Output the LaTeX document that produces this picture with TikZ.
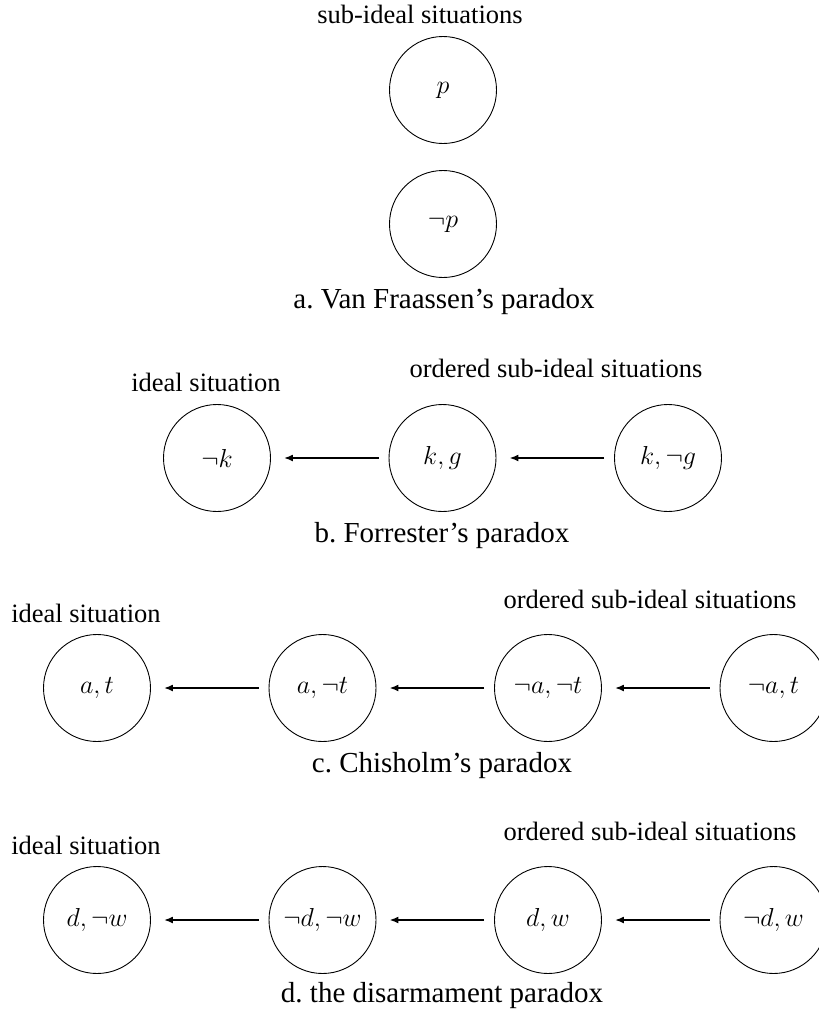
\documentclass[tikz,border=0pt]{standalone}
\usepackage{fix-cm}
\usepackage{fontspec}
\setmainfont{Liberation Serif}
\usetikzlibrary{arrows.meta}
\begin{document}
\begin{tikzpicture}[x=1pt,y=-1pt,
  state/.style={draw, circle, line width=0.9pt, minimum size=107pt, inner sep=0pt, font=\fontsize{26}{30}\selectfont},
  lbl/.style={font=\fontsize{26.5}{31}\selectfont, inner sep=0pt, anchor=base},
  captext/.style={font=\fontsize{29}{34}\selectfont, inner sep=0pt, anchor=base},
  pref/.style={-{Latex[length=9pt,width=7pt]}, line width=1.7pt, shorten <=10pt, shorten >=13pt}]
\useasboundingbox (0,0) rectangle (819,1013);
% a
\node[lbl] (ta) at (420,23) {sub-ideal situations};
\node[state] (p) at (443,90) {$p$};
\node[state] (np) at (443,224) {$\neg p$};
\node[captext] (ca) at (444,308) {a.\ Van Fraassen's paradox};
% b
\node[lbl] (ib) at (206,391) {ideal situation};
\node[lbl] (ob) at (556,377) {ordered sub-ideal situations};
\node[state] (b1) at (217,458) {$\neg k$};
\node[state] (b2) at (442.5,458) {$k, g$};
\node[state] (b3) at (668,458) {$k, \neg g$};
\draw[pref] (b2) -- (b1);
\draw[pref] (b3) -- (b2);
\node[captext] (cb) at (442,542) {b.\ Forrester's paradox};
% c
\node[lbl] (ic) at (86,622) {ideal situation};
\node[lbl] (oc) at (650,608) {ordered sub-ideal situations};
\node[state] (c1) at (97,688) {$a, t$};
\node[state] (c2) at (322.5,688) {$a, \neg t$};
\node[state] (c3) at (548,688) {$\neg a, \neg t$};
\node[state] (c4) at (773.5,688) {$\neg a, t$};
\draw[pref] (c2) -- (c1);
\draw[pref] (c3) -- (c2);
\draw[pref] (c4) -- (c3);
\node[captext] (cc) at (442,772) {c.\ Chisholm's paradox};
% d
\node[lbl] (id) at (86,854) {ideal situation};
\node[lbl] (od) at (650,840) {ordered sub-ideal situations};
\node[state] (d1) at (97,920) {$d, \neg w$};
\node[state] (d2) at (322.5,920) {$\neg d, \neg w$};
\node[state] (d3) at (548,920) {$d, w$};
\node[state] (d4) at (773.5,920) {$\neg d, w$};
\draw[pref] (d2) -- (d1);
\draw[pref] (d3) -- (d2);
\draw[pref] (d4) -- (d3);
\node[captext] (cd) at (442,1002) {d.\ the disarmament paradox};
\end{tikzpicture}
\end{document}
